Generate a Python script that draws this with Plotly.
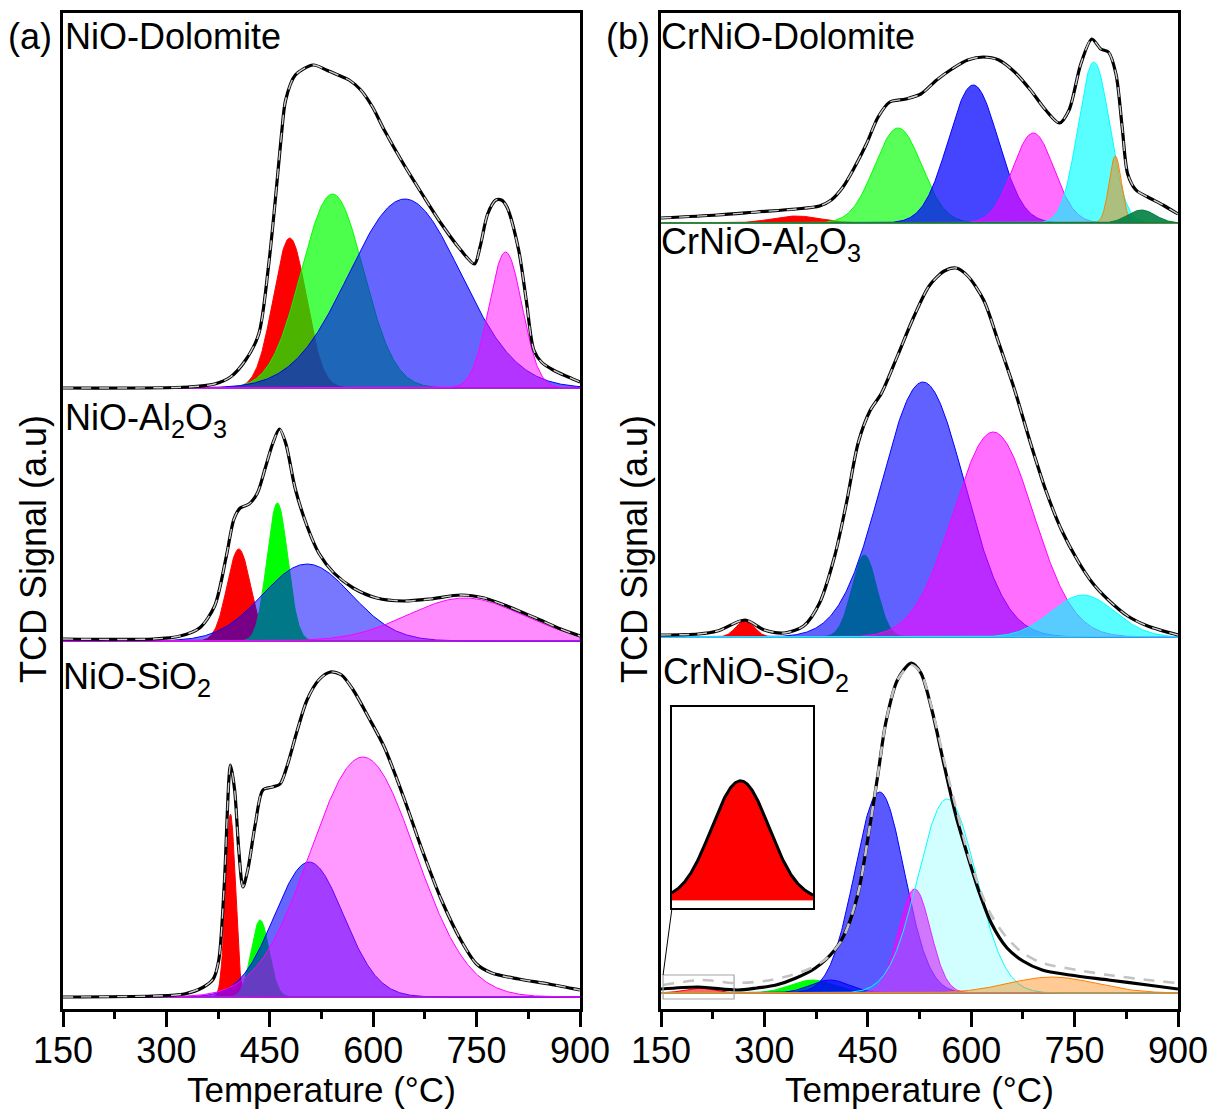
import numpy as np
import plotly.graph_objects as go

# ======================= DATA =======================
# Temperatures in degC, signals in arbitrary units (a.u.) above each sample's baseline

# ---- (a) NiO-Dolomite ----
nio_dol_temp = [150, 331, 370, 393, 415, 434, 448, 458, 467, 473, 487, 513, 532, 549, 565, 582, 599, 616,
                644, 671, 699, 727, 747, 755, 766, 778, 786, 794, 811, 822, 833, 844, 861, 883, 900]
nio_dol_signal = [0, 1, 4, 11, 28, 54, 121, 188, 254, 288, 313, 323, 318, 313, 308, 298, 281, 258,
                  224, 194, 164, 138, 124, 141, 174, 188, 188, 181, 138, 88, 38, 26, 18, 11, 6]
nio_dol_peak_center = [479, 541, 646, 792]
nio_dol_peak_height = [150, 194, 189, 136]
nio_dol_peak_sigma = [24, 45, 81, 24]

# ---- (a) NiO-Al2O3 ----
nio_al_temp = [150, 281, 320, 348, 370, 387, 398, 407, 420, 432, 443, 454, 464, 473, 487, 504, 521, 543,
               571, 605, 644, 683, 727, 761, 794, 839, 872, 900]
nio_al_signal = [2, 2, 5, 13, 35, 85, 122, 133, 137, 148, 172, 197, 212, 198, 152, 115, 88, 68,
                 53, 43, 40, 42, 46, 43, 35, 22, 12, 5]
nio_al_peak_center = [405, 461, 504, 733]
nio_al_peak_height = [92, 138, 77, 43]
nio_al_peak_sigma = [17, 15, 64, 83]

# ---- (a) NiO-SiO2 ----
nio_si_temp = [150, 281, 326, 354, 368, 376, 384, 393, 399, 405, 411, 418, 429, 440, 454, 465, 476, 490,
               504, 521, 538, 554, 571, 593, 616, 644, 671, 699, 727, 750, 772, 811, 855, 900]
nio_si_signal = [0, 1, 3, 10, 18, 37, 113, 232, 207, 147, 110, 127, 173, 207, 210, 213, 233, 267,
                 297, 317, 325, 322, 307, 280, 250, 200, 147, 97, 57, 33, 24, 18, 13, 7]
nio_si_peak_center = [393, 436, 507, 585]
nio_si_peak_height = [183, 77, 135, 240]
nio_si_peak_sigma = [7, 13, 50, 76]

# ---- (b) CrNiO-Dolomite ----
cr_dol_temp = [150, 232, 289, 346, 380, 397, 414, 431, 448, 465, 482, 505, 527, 550, 572, 595, 618, 640,
               663, 686, 708, 728, 742, 759, 775, 788, 799, 810, 819, 827, 839, 856, 878, 900]
cr_dol_signal = [5, 8, 11, 14, 17, 23, 36, 56, 79, 106, 121, 124, 129, 143, 154, 163, 166, 163,
                 151, 133, 113, 100, 113, 159, 184, 174, 171, 149, 96, 49, 33, 26, 18, 9]
cr_dol_peak_center = [346, 494, 603, 690, 778, 809, 847]
cr_dol_peak_height = [7, 95, 138, 90, 161, 67, 13]
cr_dol_peak_sigma = [35, 34, 36, 30, 23, 9, 20]

# ---- (b) CrNiO-Al2O3 ----
cr_al_temp = [150, 204, 232, 272, 300, 329, 357, 380, 402, 419, 436, 453, 470, 493, 516, 539, 561, 578,
              595, 618, 640, 663, 686, 708, 731, 754, 776, 799, 827, 856, 900]
cr_al_signal = [2, 3, 6, 17, 7, 4, 11, 34, 81, 134, 194, 226, 244, 281, 319, 351, 366, 369,
                361, 337, 294, 247, 194, 147, 107, 77, 54, 37, 21, 11, 2]
cr_al_peak_center = [272, 445, 530, 632, 762]
cr_al_peak_height = [17, 82, 255, 205, 42]
cr_al_peak_sigma = [13, 18, 60, 58, 46]

# ---- (b) CrNiO-SiO2 ----
cr_si_temp = [150, 204, 261, 289, 317, 346, 374, 402, 419, 436, 453, 465, 476, 493, 513, 527, 544, 561,
              578, 595, 612, 629, 652, 675, 703, 743, 799, 856, 900]
cr_si_signal = [4, 6, 3, 5, 8, 15, 25, 43, 63, 100, 167, 220, 270, 313, 330, 320, 280, 227,
                177, 137, 100, 70, 45, 32, 23, 18, 13, 8, 4]
cr_si_fit_temp = [153, 210, 255, 300, 340, 368, 391, 414, 436, 453, 465, 476, 493, 513, 527, 544, 561,
                  578, 595, 612, 629, 652, 675, 703, 754, 799, 856, 898]
cr_si_fit_signal = [8, 13, 10, 12, 18, 25, 35, 55, 100, 167, 220, 270, 313, 328, 320, 282, 232,
                    185, 140, 105, 78, 55, 40, 30, 23, 18, 13, 10]
cr_si_peak_center = [205, 370, 395, 467, 518, 565, 717]
cr_si_peak_height = [5, 13, 13, 201, 104, 194, 16]
cr_si_peak_sigma = [21, 32, 28, 36, 23, 42, 63]

x_tick_values = [150, 300, 450, 600, 750, 900]
x_tick_labels = ["150", "300", "450", "600", "750", "900"]

sample_names_a = ["NiO-Dolomite", "NiO-Al<sub>2</sub>O<sub>3</sub>", "NiO-SiO<sub>2</sub>"]
sample_names_b = ["CrNiO-Dolomite", "CrNiO-Al<sub>2</sub>O<sub>3</sub>", "CrNiO-SiO<sub>2</sub>"]

# ======================= STYLE / LAYOUT CONSTANTS =======================
W, H = 1212, 1113
FONT = "Liberation Sans, Arial, sans-serif"
RED, GREEN, BLUE, MAG = (255, 0, 0), (0, 255, 0), (0, 0, 255), (255, 0, 255)
CYAN, ORANGE, DKGREEN = (0, 255, 255), (255, 128, 0), (0, 128, 64)

# plot-area pixel geometry
AX_L = (63, 580)
AX_R = (661, 1178)
AX_TOP, AX_BOT = 13, 1009
Y_SPAN = AX_BOT - AX_TOP          # y axis units == pixels
# baselines (vertical offsets of stacked samples)
OFF_A = [621, 368, 12]
OFF_B = [786, 372, 16]


def px_x(px):
    return px / W


def px_y(py):
    return 1 - py / H


def rgb(c):
    return "rgb(%d,%d,%d)" % c


def rgba(c, a):
    return "rgba(%d,%d,%d,%.3f)" % (c[0], c[1], c[2], a)


def gauss(x, c, h, s):
    return h * np.exp(-0.5 * ((x - c) / s) ** 2)


grid = np.linspace(150, 900, 751)
fig = go.Figure()


def add_sample(xa, ya, off, temp, sig, centers, heights, sigmas, colors, alphas,
               fit_temp=None, fit_sig=None):
    for c, h, s, col, a in zip(centers, heights, sigmas, colors, alphas):
        g = off + gauss(grid, c, h, s)
        xs = np.concatenate([grid, [900, 150]])
        ys = np.concatenate([g, [off, off]])
        fig.add_trace(go.Scatter(x=xs, y=ys, xaxis=xa, yaxis=ya, mode="lines", fill="toself",
                                 fillcolor=rgba(col, a), line=dict(color=rgb(col), width=1),
                                 hoverinfo="skip", showlegend=False))
    fig.add_trace(go.Scatter(x=temp, y=np.array(sig) + off, xaxis=xa, yaxis=ya, mode="lines",
                             line=dict(color="black", width=3.2, shape="spline", smoothing=0.8),
                             hoverinfo="skip", showlegend=False))
    if fit_temp is None:
        fig.add_trace(go.Scatter(x=temp, y=np.array(sig) + off, xaxis=xa, yaxis=ya, mode="lines",
                                 line=dict(color="rgb(205,205,205)", width=1.4, dash="10px,8px",
                                           shape="spline", smoothing=0.8),
                                 hoverinfo="skip", showlegend=False))
    else:
        fig.add_trace(go.Scatter(x=fit_temp, y=np.array(fit_sig) + off, xaxis=xa, yaxis=ya,
                                 mode="lines",
                                 line=dict(color="rgb(195,195,195)", width=2.6, dash="11px,9px",
                                           shape="spline", smoothing=0.8),
                                 hoverinfo="skip", showlegend=False))


# panel (a)
add_sample("x", "y", OFF_A[0], nio_dol_temp, nio_dol_signal, nio_dol_peak_center, nio_dol_peak_height,
           nio_dol_peak_sigma, [RED, GREEN, BLUE, MAG], [1, 0.7, 0.6, 0.5])
add_sample("x", "y", OFF_A[1], nio_al_temp, nio_al_signal, nio_al_peak_center, nio_al_peak_height,
           nio_al_peak_sigma, [RED, GREEN, BLUE, MAG], [1, 1, 0.53, 0.45])
add_sample("x", "y", OFF_A[2], nio_si_temp, nio_si_signal, nio_si_peak_center, nio_si_peak_height,
           nio_si_peak_sigma, [RED, GREEN, BLUE, MAG], [1, 1, 0.6, 0.4])
# panel (b)
add_sample("x2", "y2", OFF_B[0], cr_dol_temp, cr_dol_signal, cr_dol_peak_center, cr_dol_peak_height,
           cr_dol_peak_sigma, [RED, GREEN, BLUE, MAG, CYAN, ORANGE, DKGREEN],
           [1, 0.65, 0.73, 0.57, 0.65, 0.5, 0.9])
add_sample("x2", "y2", OFF_B[1], cr_al_temp, cr_al_signal, cr_al_peak_center, cr_al_peak_height,
           cr_al_peak_sigma, [RED, GREEN, BLUE, MAG, CYAN], [1, 1, 0.62, 0.57, 0.65])
add_sample("x2", "y2", OFF_B[2], cr_si_temp, cr_si_signal, cr_si_peak_center, cr_si_peak_height,
           cr_si_peak_sigma, [RED, GREEN, BLUE, BLUE, MAG, CYAN, ORANGE],
           [0.6, 1, 0.65, 0.65, 0.65, 0.18, 0.42],
           fit_temp=cr_si_fit_temp, fit_sig=cr_si_fit_signal)

# inset: magnified first CrNiO-SiO2 peak
INSET_T = (155, 258)
inset_grid = np.linspace(INSET_T[0], INSET_T[1], 300)
ig = gauss(inset_grid, cr_si_peak_center[0], cr_si_peak_height[0], cr_si_peak_sigma[0])
fig.add_trace(go.Scatter(x=np.concatenate([inset_grid, [INSET_T[1], INSET_T[0]]]),
                         y=np.concatenate([ig, [0, 0]]), xaxis="x3", yaxis="y3", mode="lines",
                         fill="toself", fillcolor="rgb(255,0,0)", line=dict(color="rgb(255,0,0)", width=1),
                         hoverinfo="skip", showlegend=False))
fig.add_trace(go.Scatter(x=inset_grid, y=ig, xaxis="x3", yaxis="y3", mode="lines",
                         line=dict(color="black", width=3), hoverinfo="skip", showlegend=False))

# ---------------- axes ----------------
ydom = [px_y(AX_BOT), px_y(AX_TOP)]
xcommon = dict(range=[150, 900], tickmode="array", tickvals=x_tick_values, ticktext=x_tick_labels,
               ticks="outside", ticklen=15, tickwidth=2.5, tickcolor="black", ticklabelstandoff=-7,
               minor=dict(tickmode="array", tickvals=[225, 375, 525, 675, 825], ticks="outside",
                          ticklen=7, tickwidth=2.5, tickcolor="black"),
               showline=True, linecolor="black", linewidth=2.5, mirror=True,
               showgrid=False, zeroline=False, automargin=False,
               tickfont=dict(family=FONT, size=36, color="black"))
ycommon = dict(range=[0, Y_SPAN], showticklabels=False, ticks="", showline=True, linecolor="black",
               linewidth=2.5, mirror=True, showgrid=False, zeroline=False, automargin=False,
               domain=ydom)

inset_x0, inset_x1, inset_y0, inset_y1 = 672, 813, 908, 707
fig.update_layout(
    width=W, height=H,
    margin=dict(l=0, r=0, t=0, b=0),
    paper_bgcolor="white", plot_bgcolor="white",
    showlegend=False,
    xaxis=dict(domain=[px_x(AX_L[0]), px_x(AX_L[1])], anchor="y", **xcommon),
    yaxis=dict(anchor="x", **ycommon),
    xaxis2=dict(domain=[px_x(AX_R[0]), px_x(AX_R[1])], anchor="y2", **xcommon),
    yaxis2=dict(anchor="x2", **ycommon),
    xaxis3=dict(domain=[px_x(inset_x0), px_x(inset_x1)], anchor="y3", range=list(INSET_T),
                showticklabels=False, ticks="", showline=True, linecolor="black", linewidth=2,
                mirror=True, showgrid=False, zeroline=False),
    yaxis3=dict(domain=[px_y(inset_y0), px_y(inset_y1)], anchor="x3", range=[-0.34, 8.1],
                showticklabels=False, ticks="", showline=True, linecolor="black", linewidth=2,
                mirror=True, showgrid=False, zeroline=False),
)

# gray zoom rectangle and connector line
rect_t0, rect_t1, rect_y0, rect_y1 = 153, 256, 10, 34
fig.add_shape(type="rect", xref="x2", yref="y2", x0=rect_t0, x1=rect_t1, y0=rect_y0, y1=rect_y1,
              line=dict(color="rgb(165,165,165)", width=1.2), fillcolor="rgba(0,0,0,0)", layer="above")
cx = px_x(AX_R[0]) + (rect_t0 - 150) / 750 * (px_x(AX_R[1]) - px_x(AX_R[0]))
cy = ydom[0] + rect_y1 / Y_SPAN * (ydom[1] - ydom[0])
fig.add_shape(type="line", xref="paper", yref="paper", x0=cx, y0=cy, x1=px_x(inset_x0),
              y1=px_y(inset_y0), line=dict(color="black", width=1), layer="above")

# ---------------- text ----------------
def txt(s, x, y, xanchor="left", yanchor="middle", angle=0, size=36):
    fig.add_annotation(text=s, x=px_x(x), y=px_y(y), xref="paper", yref="paper", showarrow=False,
                       xanchor=xanchor, yanchor=yanchor, textangle=angle, borderpad=0,
                       font=dict(family=FONT, size=size, color="black"))

txt("(a)", 30, 36, xanchor="center")
txt("(b)", 628, 36, xanchor="center")
txt(sample_names_a[0], 64, 36)
txt(sample_names_a[1], 64, 420)
txt(sample_names_a[2], 62, 679)
txt(sample_names_b[0], 660, 36)
txt(sample_names_b[1], 660, 244)
txt(sample_names_b[2], 662, 674)
txt("TCD Signal (a.u)", 33, 549, xanchor="center", angle=-90)
txt("TCD Signal (a.u)", 634, 549, xanchor="center", angle=-90)
txt("Temperature (\u00b0C)", (AX_L[0] + AX_L[1]) / 2, 1089, xanchor="center", size=35)
txt("Temperature (\u00b0C)", (AX_R[0] + AX_R[1]) / 2, 1089, xanchor="center", size=35)

fig.write_html("out.html", config={"displayModeBar": False},
               post_script="document.body.style.margin='0px';")
